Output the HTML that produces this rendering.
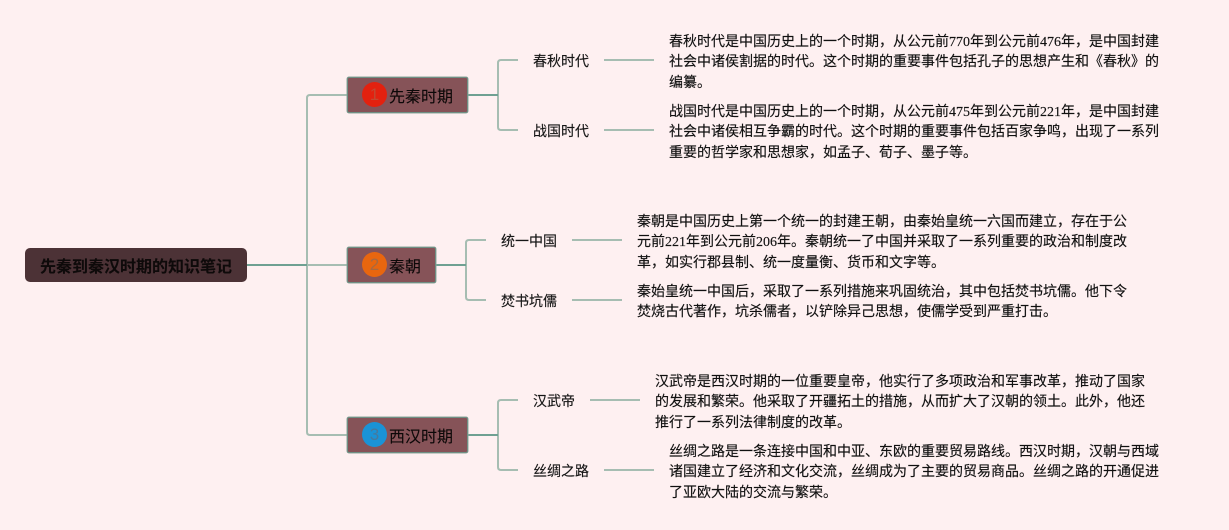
<!DOCTYPE html>
<html lang="zh">
<head>
<meta charset="utf-8">
<title>先秦到秦汉时期的知识笔记</title>
<style>
html,body{margin:0;padding:0;background:#fef0f1;}
#c{position:relative;width:1229px;height:530px;overflow:hidden;background:#fef0f1;font-family:"Liberation Serif","Noto Sans CJK SC",serif;color:#111;}
svg{position:absolute;left:0;top:0;}
.t{position:absolute;white-space:nowrap;font-size:14px;line-height:20px;height:20px;-webkit-text-stroke:0.15px #111;}
.l{position:absolute;white-space:nowrap;font-size:14px;line-height:20px;height:20px;color:#161616;-webkit-text-stroke:0.15px #161616;}
.b{position:absolute;box-sizing:border-box;background:#865358;border:1px solid #6f8f84;box-shadow:0 0 0 0.5px #8fa69c;border-radius:2px;height:36px;}
.n{position:absolute;white-space:nowrap;font-size:16px;line-height:22px;color:#0c0808;-webkit-text-stroke:0.1px #0c0808;}
.d{position:absolute;width:25px;height:25px;border-radius:50%;text-align:center;line-height:26px;font-size:17px;font-family:"Liberation Sans",sans-serif;}
</style>
</head>
<body>
<div id="c">
<svg width="1229" height="530" fill="none">
<g stroke="#a6bdb2" stroke-width="2">
<path d="M347 95H310Q307 95 307 98V432Q307 435 310 435H347"/>
<path d="M307 265H347"/>
<path d="M518 60H501Q498 60 498 63V127Q498 130 501 130H518"/>
<path d="M486 240H469Q466 240 466 243V297Q466 300 469 300H486"/>
<path d="M518 400H501Q498 400 498 403V467Q498 470 501 470H518"/>
<path d="M604 60H654M604 130H654M572 240H622M572 300H622M590 400H640M604 470H654"/>
</g>
<g stroke="#6fa092" stroke-width="2">
<path d="M247 265H307"/>
<path d="M468 95H498"/>
<path d="M436 265H466"/>
<path d="M468 435H498"/>
</g>
</svg>

<div style="position:absolute;left:25px;top:248px;width:222px;height:34px;background:#4c3236;border-radius:5px;"></div>
<div class="n" style="left:40px;top:257px;font-weight:bold;color:#0e0a0a;">先秦到秦汉时期的知识笔记</div>

<div class="b" style="left:347px;top:77px;width:121px;"></div>
<div class="d" style="left:362px;top:82px;background:#e3210f;color:#c4472f;">1</div>
<div class="n" style="left:389px;top:87px;">先秦时期</div>

<div class="b" style="left:347px;top:247px;width:89px;"></div>
<div class="d" style="left:362px;top:252px;background:#e8660f;color:#a9693f;">2</div>
<div class="n" style="left:389px;top:257px;">秦朝</div>

<div class="b" style="left:347px;top:417px;width:121px;"></div>
<div class="d" style="left:362px;top:422px;background:#1a93d6;color:#47799c;">3</div>
<div class="n" style="left:389px;top:427px;">西汉时期</div>

<div class="l" style="left:533px;top:53px;">春秋时代</div>
<div class="l" style="left:533px;top:123px;">战国时代</div>
<div class="l" style="left:501px;top:233px;">统一中国</div>
<div class="l" style="left:501px;top:293px;">焚书坑儒</div>
<div class="l" style="left:533px;top:393px;">汉武帝</div>
<div class="l" style="left:533px;top:463px;">丝绸之路</div>

<div class="t" style="left:669px;top:33px;">春秋时代是中国历史上的一个时期，从公元前770年到公元前476年，是中国封建</div>
<div class="t" style="left:669px;top:53px;">社会中诸侯割据的时代。这个时期的重要事件包括孔子的思想产生和《春秋》的</div>
<div class="t" style="left:669px;top:74px;">编纂。</div>

<div class="t" style="left:669px;top:103px;">战国时代是中国历史上的一个时期，从公元前475年到公元前221年，是中国封建</div>
<div class="t" style="left:669px;top:123px;">社会中诸侯相互争霸的时代。这个时期的重要事件包括百家争鸣，出现了一系列</div>
<div class="t" style="left:669px;top:144px;">重要的哲学家和思想家，如孟子、荀子、墨子等。</div>

<div class="t" style="left:637px;top:213px;">秦朝是中国历史上第一个统一的封建王朝，由秦始皇统一六国而建立，存在于公</div>
<div class="t" style="left:637px;top:233px;">元前221年到公元前206年。秦朝统一了中国并采取了一系列重要的政治和制度改</div>
<div class="t" style="left:637px;top:254px;">革，如实行郡县制、统一度量衡、货币和文字等。</div>

<div class="t" style="left:637px;top:283px;">秦始皇统一中国后，采取了一系列措施来巩固统治，其中包括焚书坑儒。他下令</div>
<div class="t" style="left:637px;top:303px;">焚烧古代著作，坑杀儒者，以铲除异己思想，使儒学受到严重打击。</div>

<div class="t" style="left:655px;top:373px;">汉武帝是西汉时期的一位重要皇帝，他实行了多项政治和军事改革，推动了国家</div>
<div class="t" style="left:655px;top:393px;">的发展和繁荣。他采取了开疆拓土的措施，从而扩大了汉朝的领土。此外，他还</div>
<div class="t" style="left:655px;top:414px;">推行了一系列法律制度的改革。</div>

<div class="t" style="left:669px;top:443px;">丝绸之路是一条连接中国和中亚、东欧的重要贸易路线。西汉时期，汉朝与西域</div>
<div class="t" style="left:669px;top:463px;">诸国建立了经济和文化交流，丝绸成为了主要的贸易商品。丝绸之路的开通促进</div>
<div class="t" style="left:669px;top:484px;">了亚欧大陆的交流与繁荣。</div>
</div>
</body>
</html>
